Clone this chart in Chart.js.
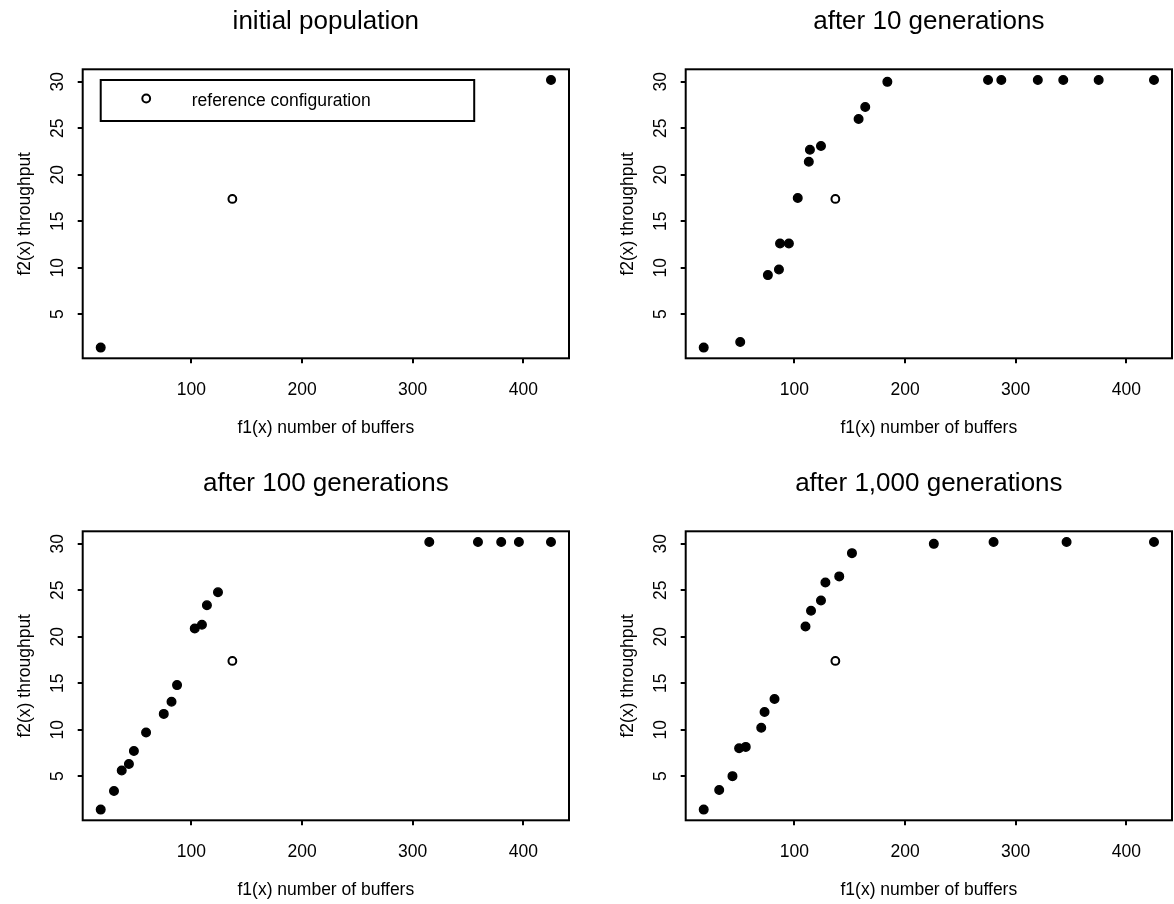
<!DOCTYPE html>
<html>
<head>
<meta charset="utf-8">
<script src="https://cdn.jsdelivr.net/npm/chart.js@4.4.1/dist/chart.umd.min.js"></script>
<style>
  body { margin: 0; background: #fff; }
  #wrap { position: relative; width: 1174px; height: 904px; }
  canvas { position: absolute; }
</style>
</head>
<body>
<div id="wrap">
  <canvas id="c0" width="571" height="442" style="left:0px;top:0px"></canvas>
  <canvas id="c1" width="571" height="442" style="left:603px;top:0px"></canvas>
  <canvas id="c2" width="571" height="442" style="left:0px;top:462px"></canvas>
  <canvas id="c3" width="571" height="442" style="left:603px;top:462px"></canvas>
</div>
<script>
var titles = ['initial population', 'after 10 generations', 'after 100 generations', 'after 1,000 generations'];
var xLabel = 'f1(x) number of buffers';
var yLabel = 'f2(x) throughput';
var legendText = 'reference configuration';
var xTicks = [100, 200, 300, 400];
var yTicks = [5, 10, 15, 20, 25, 30];

// reference configuration (open circle), same in every panel
var refX = [137];
var refY = [17.4];

var gen0X = [18, 425];
var gen0Y = [1.4, 30.2];

var gen10X = [18, 51, 76, 86, 87, 95, 103, 113, 114, 124, 158, 164, 184, 275, 287, 320, 343, 375, 425];
var gen10Y = [1.4, 2.0, 9.2, 9.8, 12.6, 12.6, 17.5, 21.4, 22.7, 23.1, 26.0, 27.3, 30.0, 30.2, 30.2, 30.2, 30.2, 30.2, 30.2];

var gen100X = [18, 30, 37, 43.5, 48, 59, 75, 82, 87, 103, 109.5, 114, 124, 315, 359, 380, 396, 425];
var gen100Y = [1.4, 3.4, 5.6, 6.3, 7.7, 9.7, 11.7, 13.0, 14.8, 20.9, 21.3, 23.4, 24.8, 30.2, 30.2, 30.2, 30.2, 30.2];

var gen1000X = [18, 32, 44, 50, 56, 70, 73, 82, 110, 115, 124, 128, 140.5, 152, 226, 280, 346, 425];
var gen1000Y = [1.4, 3.5, 5.0, 8.0, 8.15, 10.2, 11.9, 13.3, 21.1, 22.8, 23.9, 25.85, 26.5, 29.0, 30.0, 30.2, 30.2, 30.2];

var panelX = [gen0X, gen10X, gen100X, gen1000X];
var panelY = [gen0Y, gen10Y, gen100Y, gen1000Y];

var FONT = "'Liberation Sans', Arial, Helvetica, sans-serif";

function toPoints(xs, ys) {
  return xs.map(function (x, i) { return { x: x, y: ys[i] }; });
}

// R style axis range: data range plus 4% on both sides
function rRange(vals) {
  var lo = Math.min.apply(null, vals), hi = Math.max.apply(null, vals);
  var d = (hi - lo) * 0.04;
  return [lo - d, hi + d];
}

// box round the plot, rotated y tick labels, and the legend of panel 1
var framePlugin = {
  id: 'frame',
  afterDraw: function (chart) {
    var ctx = chart.ctx, a = chart.chartArea;
    var ys = chart.scales.y, xs = chart.scales.x;
    ctx.save();
    ctx.strokeStyle = '#000';
    ctx.lineWidth = 2;
    ctx.strokeRect(a.left, a.top, a.right - a.left, a.bottom - a.top);

    ctx.fillStyle = '#000';
    ctx.font = '17.5px ' + FONT;
    ctx.textAlign = 'center';
    ctx.textBaseline = 'middle';
    ys.ticks.forEach(function (t) {
      ctx.save();
      ctx.translate(a.left - 24.5, ys.getPixelForValue(t.value));
      ctx.rotate(-Math.PI / 2);
      ctx.fillText(String(t.value), 0, 0);
      ctx.restore();
    });

    if (chart.options.plugins.frame && chart.options.plugins.frame.legend) {
      var xsData = chart.data.datasets[0].data.map(function (p) { return p.x; });
      var ysData = chart.data.datasets[0].data.map(function (p) { return p.y; });
      var lx = xs.getPixelForValue(Math.min.apply(null, xsData));
      var ly = ys.getPixelForValue(Math.max.apply(null, ysData));
      ctx.lineWidth = 2;
      ctx.strokeRect(lx, ly, 373.5, 41);
      ctx.beginPath();
      ctx.arc(lx + 45.5, ly + 18.5, 3.9, 0, Math.PI * 2);
      ctx.fillStyle = '#fff';
      ctx.fill();
      ctx.stroke();
      ctx.fillStyle = '#000';
      ctx.textAlign = 'left';
      ctx.fillText(legendText, lx + 91, ly + 21);
    }
    ctx.restore();
  }
};

function makeChart(i) {
  var allX = panelX[i].concat(refX);
  var allY = panelY[i].concat(refY);
  var xr = rRange(allX), yr = rRange(allY);
  var axisFont = { family: FONT, size: 17.5, weight: 'normal' };
  new Chart(document.getElementById('c' + i), {
    type: 'scatter',
    data: {
      datasets: [{
        data: toPoints(panelX[i], panelY[i]),
        pointRadius: 4.3,
        borderWidth: 1.4,
        backgroundColor: '#000',
        borderColor: '#000'
      }, {
        data: toPoints(refX, refY),
        pointRadius: 3.9,
        borderWidth: 2,
        backgroundColor: '#fff',
        borderColor: '#000'
      }]
    },
    options: {
      responsive: false,
      animation: false,
      devicePixelRatio: 1,
      layout: { autoPadding: false, padding: { left: 0, right: 2, top: 0, bottom: 0 } },
      plugins: {
        legend: { display: false },
        tooltip: { enabled: false },
        title: {
          display: true,
          fullSize: false,
          text: titles[i],
          color: '#000',
          font: { family: FONT, size: 26, weight: 'normal', lineHeight: 1.2 },
          padding: { top: 5.9, bottom: 32.2 }
        },
        frame: { legend: i === 0 }
      },
      scales: {
        x: {
          type: 'linear',
          min: xr[0],
          max: xr[1],
          afterBuildTicks: function (s) { s.ticks = xTicks.map(function (v) { return { value: v }; }); },
          afterFit: function (s) { s.height = 83.7; },
          border: { display: false },
          grid: { drawOnChartArea: false, drawTicks: true, tickLength: 5, color: '#000', lineWidth: 2 },
          ticks: { color: '#000', font: axisFont, padding: 16.2, maxRotation: 0 },
          title: { display: true, text: xLabel, color: '#000', font: axisFont, padding: { top: 0, bottom: 3.5 } }
        },
        y: {
          type: 'linear',
          min: yr[0],
          max: yr[1],
          afterBuildTicks: function (s) { s.ticks = yTicks.map(function (v) { return { value: v }; }); },
          afterFit: function (s) { s.width = 82.7; },
          border: { display: false },
          grid: { drawOnChartArea: false, drawTicks: true, tickLength: 5, color: '#000', lineWidth: 2 },
          ticks: { display: false },
          title: { display: true, text: yLabel, color: '#000', font: axisFont, padding: { top: 14.2, bottom: 0 } }
        }
      }
    },
    plugins: [framePlugin]
  });
}

for (var i = 0; i < 4; i++) makeChart(i);
</script>
</body>
</html>
